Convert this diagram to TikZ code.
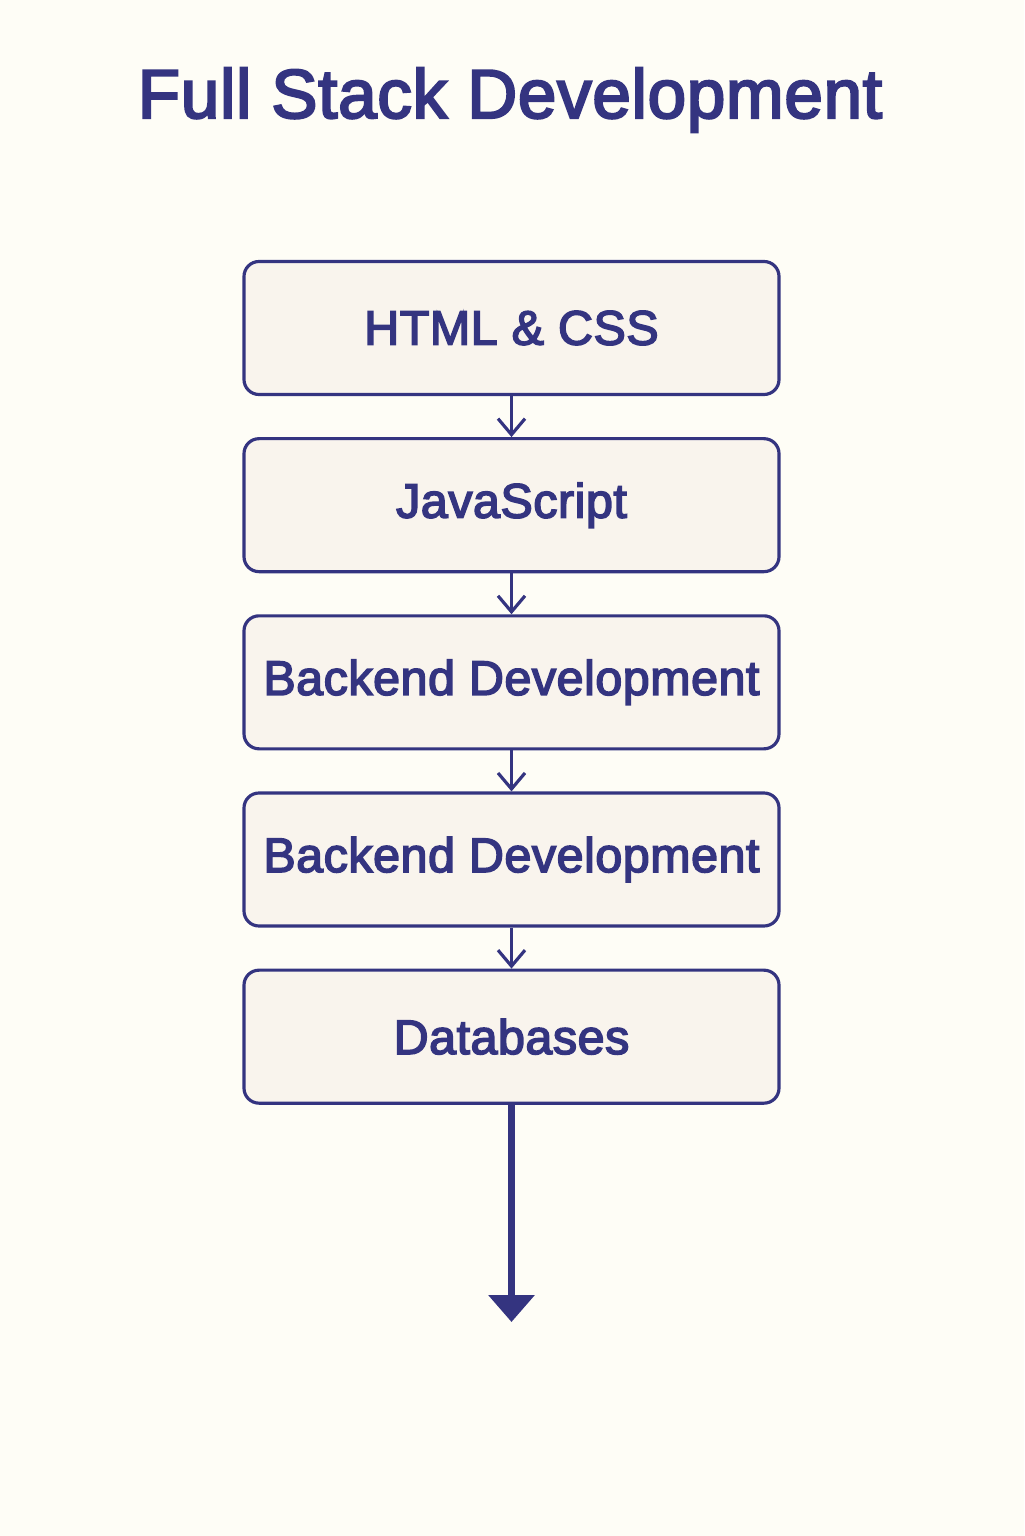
\documentclass[tikz,border=0pt]{standalone}
\usepackage{fontspec}
\newfontfamily\stackfont{Liberation Sans}[FakeBold=3.2, LetterSpace=1]
\usepackage{tikz}
\usetikzlibrary{positioning}
\usetikzlibrary{arrows.meta}
\definecolor{ink}{RGB}{52,52,128}
\definecolor{boxfill}{RGB}{249,244,237}
\definecolor{paper}{RGB}{254,253,246}

\begin{document}
\begin{tikzpicture}[
        layer/.style={draw=ink, fill=boxfill, line width=0.9pt, rounded corners=1.5mm,
            minimum width=5.35cm, minimum height=1.33cm, text=ink,
            font=\stackfont\fontsize{13.8}{17}\selectfont},
        link/.style={draw=ink, line width=0.9pt,
            -{Straight Barb[length=1.6mm,width=2.7mm,line width=0.9pt]}},
        node distance=0.41cm
    ]
        \fill[paper] (0,0) rectangle (10.24,-15.36);
        \useasboundingbox (0,0) rectangle (10.24,-15.36);
        \node[anchor=base, text=ink, font=\stackfont\fontsize{19.7}{24}\selectfont] (title) at (5.10,-1.18) {Full Stack Development};
        \node[layer] (html) at (5.115,-3.28) {HTML \& CSS};
        \node[layer, below=of html] (js) {JavaScript};
        \node[layer, below=of js] (back1) {Backend Development};
        \node[layer, below=of back1] (back2) {Backend Development};
        \node[layer, below=of back2] (db) {Databases};
        \coordinate (end) at (5.115,-13.22);
        \foreach \a/\b in {html/js, js/back1, back1/back2, back2/db}
        {
            \draw[link] (\a) -- (\b);
        }
        \draw[ink, line width=2pt, -{Triangle[length=2.7mm,width=4.5mm]}] (db) -- (end);
    \end{tikzpicture}
\end{document}
